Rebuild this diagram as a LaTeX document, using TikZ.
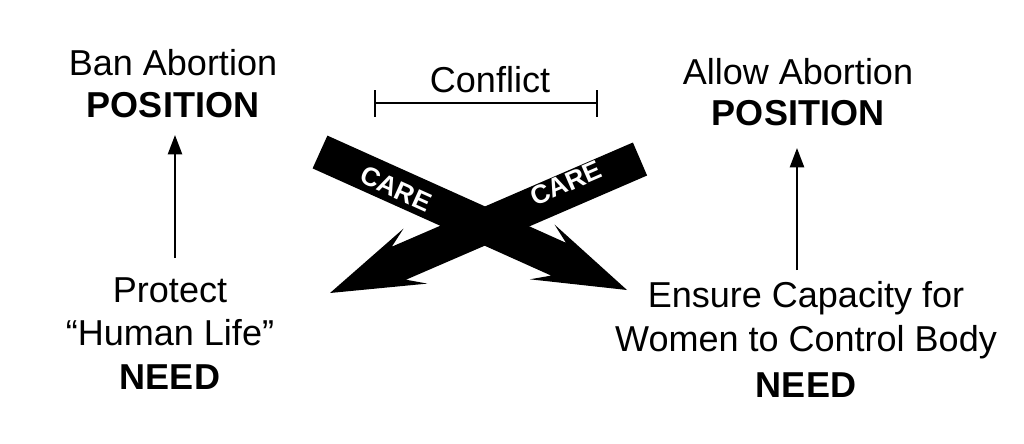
\documentclass[tikz,border=0pt]{standalone}
\usepackage{fontspec}
\setmainfont{Liberation Sans}
\usetikzlibrary{arrows.meta}
\begin{document}
\begin{tikzpicture}[x=0.02cm,y=-0.02cm,
  txt/.style={inner sep=0pt,anchor=center,font=\fontsize{20.5}{24}\selectfont},
  btxt/.style={txt,font=\fontsize{20.5}{24}\selectfont\bfseries},
  up/.style={line width=1.3pt,-{Triangle[length=11pt,width=8pt]}},
  big/.style={fill=black},
  care/.style={text=white,font=\fontsize{15}{17}\selectfont\bfseries,inner sep=0pt}]
\useasboundingbox (0,0) rectangle (1024,443);
\node[txt] (ban) at (173,63) {Ban Abortion};
\node[btxt] (banp) at (173,105) {POSITION};
\node[txt] (prot) at (170,290) {Protect};
\node[txt] (hl) at (170,333) {“Human Life”};
\node[btxt] (need1) at (170,377) {NEED};
\coordinate (a1s) at (175,258);
\coordinate (a1e) at (175,135);
\draw[up] (a1s) -- (a1e);
\node[txt] (conf) at (490,80) {Conflict};
\coordinate (cl) at (375,103);
\coordinate (cr) at (597,103);
\draw[line width=1.3pt] (cl) -- (cr) (375,90) -- (375,117) (597,90) -- (597,117);
\node[txt] (allow) at (798,72) {Allow Abortion};
\node[btxt] (allowp) at (798,113) {POSITION};
\coordinate (a2s) at (797,270);
\coordinate (a2e) at (797,148);
\draw[up] (a2s) -- (a2e);
\node[txt] (ens) at (806,298) {Ensure Capacity for};
\node[txt] (wom) at (806,342) {Women to Control Body};
\node[btxt] (need2) at (806,385) {NEED};
\fill[big] (327.4,135.6) -- (566,242.8) -- (554.5,224.5) -- (627,290) -- (529.9,279.3) -- (551.2,275.6) -- (312.6,168.4) -- cycle;
\fill[big] (632.9,142.5) -- (391.8,246.7) -- (403.5,228.6) -- (330,293) -- (427.3,283.6) -- (406,279.7) -- (647.1,175.5) -- cycle;
\node[care,rotate=-24.2] (c1) at (396,189) {CARE};
\node[care,rotate=23.4] (c2) at (566,183) {CARE};
\end{tikzpicture}
\end{document}
